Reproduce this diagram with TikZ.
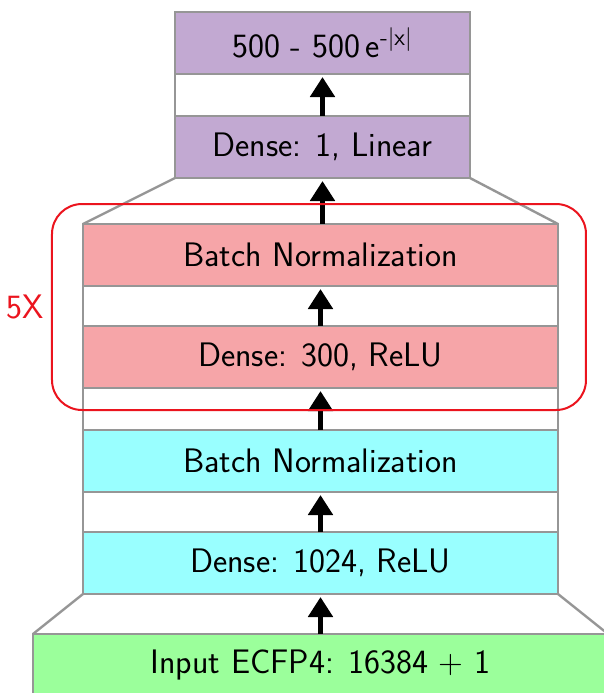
\documentclass[tikz,border=0pt]{standalone}
\usetikzlibrary{arrows.meta}
\definecolor{lilac}{RGB}{194,169,210}
\definecolor{rose}{RGB}{246,165,168}
\definecolor{aqua}{RGB}{153,255,255}
\definecolor{mint}{RGB}{155,255,155}
\definecolor{edgegray}{RGB}{150,150,150}
\definecolor{loopred}{RGB}{235,20,30}
\begin{document}
\begin{tikzpicture}[x=0.5pt,y=0.5pt]
	\tikzstyle{every node}+=[inner sep=0pt, outer sep=0pt, font=\sffamily\fontsize{17}{20}\selectfont]
	\tikzstyle{layer}=[draw=edgegray, line width=1.2pt, minimum height=31pt]
	\tikzstyle{edge}=[draw=edgegray, line width=1.2pt]
	\tikzstyle{arr}=[line width=2.5pt, -{Triangle[width=12pt,length=10pt]}, shorten >=1.5pt]
	\useasboundingbox (0,0) rectangle (604,-693);
	% layers, bottom to top
	\node [layer, fill=mint, minimum width=287.5pt] (inp) at (320.5,-665) {Input ECFP4: 16384 + 1};
	\node [layer, fill=aqua, minimum width=237.5pt] (d1024) at (320.5,-563) {Dense: 1024, ReLU};
	\node [layer, fill=aqua, minimum width=237.5pt] (bn1) at (320.5,-461) {Batch Normalization};
	\node [layer, fill=rose, minimum width=237.5pt] (d300) at (320.5,-357) {Dense: 300, ReLU};
	\node [layer, fill=rose, minimum width=237.5pt] (bn2) at (320.5,-255) {Batch Normalization};
	\node [layer, fill=lilac, minimum width=147.5pt] (lin) at (322.5,-147) {Dense: 1, Linear};
	\node [layer, fill=lilac, minimum width=147.5pt] (out) at (322.5,-43) {500 - 500\,e\textsuperscript{-|x|}};
	% sides of the column
	\draw [edge] (d1024.south west) -- (inp.north west);
	\draw [edge] (d1024.south east) -- (inp.north east);
	\draw [edge] (bn1.south west) -- (d1024.north west);
	\draw [edge] (bn1.south east) -- (d1024.north east);
	\draw [edge] (d300.south west) -- (bn1.north west);
	\draw [edge] (d300.south east) -- (bn1.north east);
	\draw [edge] (bn2.south west) -- (d300.north west);
	\draw [edge] (bn2.south east) -- (d300.north east);
	\draw [edge] (lin.south west) -- (bn2.north west);
	\draw [edge] (lin.south east) -- (bn2.north east);
	\draw [edge] (out.south west) -- (lin.north west);
	\draw [edge] (out.south east) -- (lin.north east);
	% arrows
	\draw [arr] (inp.north) -- (inp.north |- d1024.south);
	\draw [arr] (d1024.north) -- (d1024.north |- bn1.south);
	\draw [arr] (bn1.north) -- (bn1.north |- d300.south);
	\draw [arr] (d300.north) -- (d300.north |- bn2.south);
	\draw [arr] (lin.south |- bn2.north) -- (lin.south);
	\draw [arr] (lin.north) -- (out.south);
	% repeated block
	\node [draw=loopred, line width=1pt, rounded corners=15pt, minimum width=267pt, minimum height=103pt] (loop) at (319,-307) {};
	\node [text=loopred] (times) at (25,-307) {5X};
\end{tikzpicture}
\end{document}
